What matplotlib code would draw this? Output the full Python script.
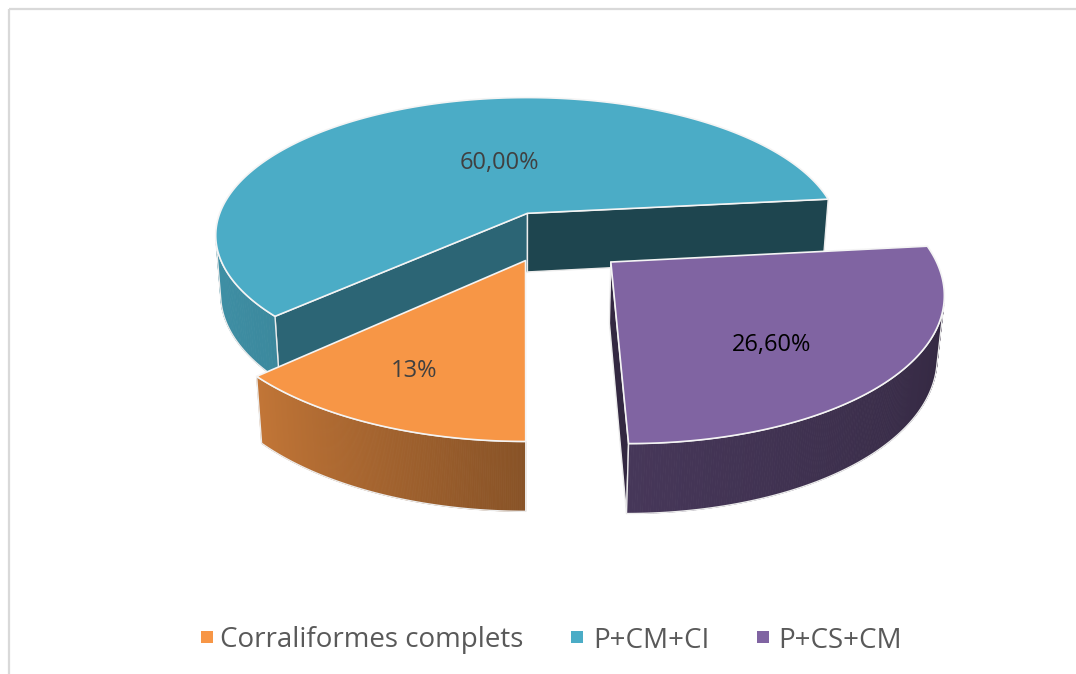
import numpy as np
import matplotlib
matplotlib.use("Agg")
import matplotlib.pyplot as plt
from matplotlib.patches import Polygon, Rectangle
from matplotlib.colors import to_rgb

# ---------------- data ----------------
categories = ["Corraliformes complets", "P+CM+CI", "P+CS+CM"]
values = [13.0, 60.0, 26.6]
labels = ["13%", "60,00%", "26,60%"]
colors = ["#F79646", "#4BACC6", "#8064A2"]

# ---------------- 3D view (layout) ----------------
X0, Y0, S = 524.71, 170.34, 291.87      # screen origin / scale (px)
EL, DIST, H = 0.4271, 5.951, 0.215      # elevation (rad), camera distance, thickness
TX, TY = -0.009, 0.3371                 # camera target
OFFSETS = [(-0.0064, -0.3327), (0.0, 0.0), (0.2554, -0.3424)]  # explosion
FIRST_ANGLE = 180.0
LABEL_POS = [(205.1, 0.72), (346.2, 0.412), (139.4, 0.66)]   # (theta, r) for labels
LABEL_COLORS = ["#404040", "#404040", "#000000"]
CAM = np.array([TX, TY - DIST * np.cos(EL), DIST * np.sin(EL)])
FONT = ["Open Sans", "DejaVu Sans"]

vals = np.array(values)
ang = vals / vals.sum() * 360.0
starts = FIRST_ANGLE + np.concatenate([[0.0], np.cumsum(ang)[:-1]])
ends = starts + ang


def world(k, th, r, zb):
    t = np.radians(th)
    ox, oy = OFFSETS[k]
    return ox + r * np.sin(t), oy + r * np.cos(t), -H * np.asarray(zb, float)


def proj(k, th, r, zb):
    x, y, z = world(k, th, r, zb)
    x = x - TX
    y = y - TY
    v = y * np.sin(EL) + z * np.cos(EL)
    w = -y * np.cos(EL) + z * np.sin(EL)
    f = DIST / (DIST - w)
    return X0 + S * x * f, Y0 - S * v * f


def visible(point, normal):
    return np.dot(CAM - np.asarray(point), np.asarray(normal)) > 0


def shade(c, f):
    return tuple(min(1.0, ch * f) for ch in to_rgb(c))


def side_factor(th):
    th = np.mod(th, 360.0)
    return np.interp(th, [90, 180, 230, 275], [0.37, 0.55, 0.80, 0.86])


EDGE = "#ececec"

fig = plt.figure(figsize=(10.76, 6.74), dpi=100)
ax = fig.add_axes([0, 0, 1, 1])
ax.set_xlim(0, 1076)
ax.set_ylim(674, 0)
ax.axis("off")

# chart area border (top & left visible)
ax.plot([8.5, 1076], [8.5, 8.5], color="#d9d9d9", lw=1.6, solid_capstyle="butt")
ax.plot([8.5, 8.5], [8.5, 674], color="#d9d9d9", lw=1.6, solid_capstyle="butt")

order = [1, 0, 2]
for k in order:
    s, e = starts[k], ends[k]
    base = colors[k]
    # radial faces
    for th, nth, fac in [(s, s - 90, 0.59), (e, e + 90, 0.40)]:
        xw, yw, _ = world(k, th, 0.5, 0.5)
        nt = np.radians(nth)
        if visible((xw, yw, -H / 2), (np.sin(nt), np.cos(nt), 0)):
            pts = [proj(k, th, 0, 0), proj(k, th, 1, 0), proj(k, th, 1, 1), proj(k, th, 0, 1)]
            ax.add_patch(Polygon(np.array(pts), closed=True, fc=shade(base, fac),
                                 ec=EDGE, lw=1.0, joinstyle="round"))
    # outer side
    ths = np.linspace(s, e, 240)
    vis = []
    for a, b in zip(ths[:-1], ths[1:]):
        m = 0.5 * (a + b)
        xw, yw, _ = world(k, m, 1, 0.5)
        tm = np.radians(m)
        vis.append(visible((xw, yw, -H / 2), (np.sin(tm), np.cos(tm), 0)))
    vis = np.array(vis)
    if vis.any():
        idx = np.where(vis)[0]
        for i in idx:
            a, b = ths[i], ths[i + 1]
            xa, ya = proj(k, np.array([a, b, b, a]), 1, np.array([0, 0, 1, 1]))
            col = shade(base, side_factor(0.5 * (a + b)))
            ax.add_patch(Polygon(np.c_[xa, ya], closed=True, fc=col, ec=col, lw=0.6))
        tv = ths[idx[0]: idx[-1] + 2]
        xt, yt = proj(k, tv, 1, 0)
        xb, yb = proj(k, tv[::-1], 1, 1)
        ax.add_patch(Polygon(np.c_[np.r_[xt, xb], np.r_[yt, yb]], closed=True,
                             fc="none", ec=EDGE, lw=1.0))
    # top face
    ths = np.linspace(s, e, 300)
    xr, yr = proj(k, ths, 1, 0)
    xa, ya = proj(k, 0, 0, 0)
    ax.add_patch(Polygon(np.c_[np.r_[xa, xr], np.r_[ya, yr]], closed=True,
                         fc=base, ec="#f4f4f4", lw=1.2, joinstyle="round"))

# data labels
for k in range(len(values)):
    th, r = LABEL_POS[k]
    lx, ly = proj(k, th, r, 0)
    ax.text(lx, ly, labels[k], ha="center", va="center", fontsize=17,
            family=FONT, color=LABEL_COLORS[k])

# legend
LEG_SQ_X = [207.0, 576.5, 762.5]
LEG_TX_X = [220.5, 593.5, 778.5]
LEG_Y = 637.0
for k in range(len(categories)):
    ax.add_patch(Rectangle((LEG_SQ_X[k] - 6, LEG_Y - 6), 12, 12, fc=colors[k], ec="none"))
    ax.text(LEG_TX_X[k], LEG_Y, categories[k], ha="left", va="center_baseline",
            fontsize=20, family=FONT, color="#595959")

fig.savefig("out.png", dpi=100)
